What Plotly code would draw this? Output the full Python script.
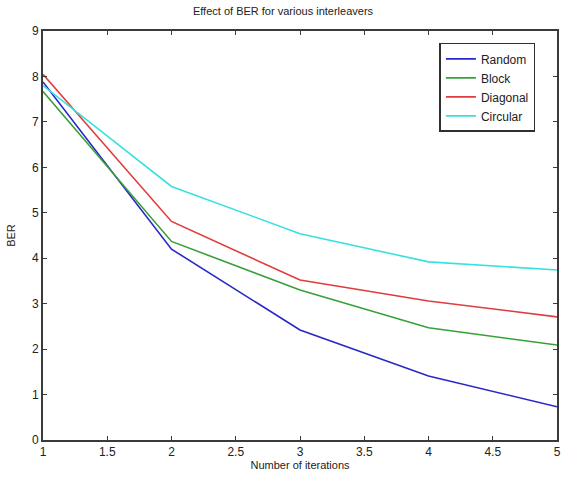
import plotly.graph_objects as go

iterations = [1, 2, 3, 4, 5]
random_ber = [7.88, 4.2, 2.42, 1.41, 0.73]
block_ber = [7.67, 4.37, 3.3, 2.47, 2.09]
diagonal_ber = [8.05, 4.81, 3.52, 3.06, 2.71]
circular_ber = [7.8, 5.58, 4.54, 3.92, 3.74]

series = [
    ("Random", random_ber, "#2828c8"),
    ("Block", block_ber, "#38a038"),
    ("Diagonal", diagonal_ber, "#e03c3c"),
    ("Circular", circular_ber, "#38e0e0"),
]

x_ticks = [1, 1.5, 2, 2.5, 3, 3.5, 4, 4.5, 5]
x_tick_labels = ["1", "1.5", "2", "2.5", "3", "3.5", "4", "4.5", "5"]
y_ticks = list(range(0, 10))

FONT = "Liberation Sans, Arial"

fig = go.Figure()
for name, vals, color in series:
    fig.add_trace(go.Scatter(x=iterations, y=vals, mode="lines", name=name,
                             line=dict(color=color, width=1.6)))

axis_common = dict(showline=True, linecolor="#3a3a3a", linewidth=2, mirror="ticks",
                   ticks="inside", ticklen=4, tickcolor="#3a3a3a", showgrid=False,
                   zeroline=False, ticklabeloverflow="allow",
                   tickfont=dict(family=FONT, size=12, color="#222"))

fig.update_layout(
    width=566, height=486,
    margin=dict(l=43, r=5, t=31, b=46),
    paper_bgcolor="white", plot_bgcolor="white",
    title=dict(text="Effect of BER for various interleavers", x=0.5, xanchor="center",
               y=0.978, yanchor="middle",
               font=dict(family=FONT, size=11, color="#222")),
    xaxis=dict(range=[1, 5], tickvals=x_ticks, ticktext=x_tick_labels,
               title=dict(text="Number of iterations", standoff=2,
                          font=dict(family=FONT, size=11, color="#222")),
               **axis_common),
    yaxis=dict(range=[0, 9], tickvals=y_ticks,
               title=dict(text="BER", standoff=14,
                          font=dict(family=FONT, size=11, color="#222")),
               **axis_common),
    legend=dict(x=0.958, y=0.971, xanchor="right", yanchor="top",
                bgcolor="white", bordercolor="#303030", borderwidth=1.5,
                font=dict(family=FONT, size=12, color="#222"),
                tracegroupgap=0, itemwidth=30),
    showlegend=True,
)

fig.write_html("out.html",
               config={"displayModeBar": False},
               post_script="document.body.style.margin='0';document.body.style.overflow='hidden';")
